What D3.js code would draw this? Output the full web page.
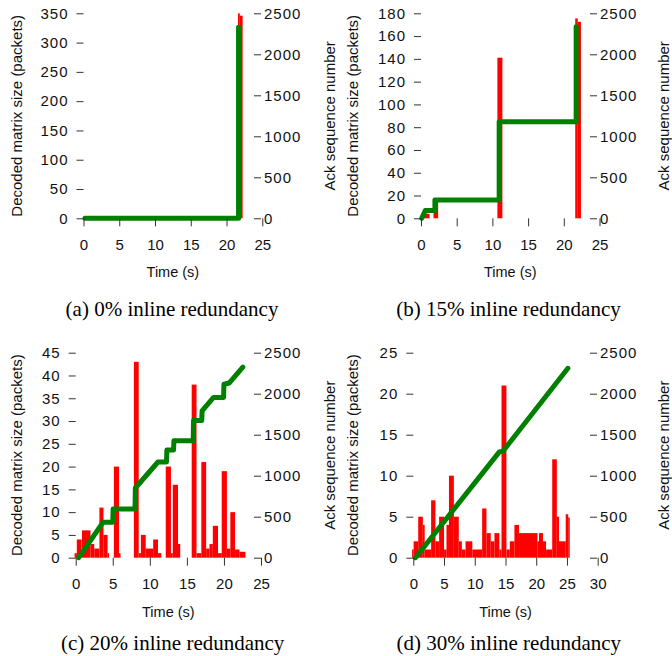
<!DOCTYPE html>
<html><head><meta charset="utf-8">
<script src="https://cdn.jsdelivr.net/npm/d3@7"></script>
<style>body{margin:0;background:#fff}svg{display:block}</style>
</head><body>
<script>
// ---------------- DATA ----------------
// shared right axis (Ack sequence number)
const ackTicks = [0, 500, 1000, 1500, 2000, 2500];

// (a) 0% inline redundancy
const aXTicks = [0, 5, 10, 15, 20, 25];
const aYTicks = [0, 50, 100, 150, 200, 250, 300, 350];
const aAckT = [0.2, 21.68, 21.68];
const aAckV = [0, 0, 2330];
const aRedT0 = [21.6, 21.85];
const aRedT1 = [21.85, 22.25];
const aRedV  = [350, 346];

// (b) 15% inline redundancy
const bXTicks = [0, 5, 10, 15, 20, 25];
const bYTicks = [0, 20, 40, 60, 80, 100, 120, 140, 160, 180];
const bAckT = [0.1, 0.6, 1.95, 1.95, 10.95, 10.95, 21.73, 21.73];
const bAckV = [0, 95, 95, 223, 223, 1178, 1178, 2335];
const bRedT0 = [0.4, 1.75, 10.7, 21.6, 21.95];
const bRedT1 = [1.2, 2.4, 11.4, 21.95, 22.4];
const bRedV  = [4, 17.5, 141, 175.5, 172.5];

// (c) 20% inline redundancy
const cXTicks = [0, 5, 10, 15, 20, 25];
const cYTicks = [0, 5, 10, 15, 20, 25, 30, 35, 40, 45];
const cAckT = [0.4, 3.7, 5.0, 5.05, 8.0, 8.05, 11.1, 12.25, 12.3, 13.2, 13.25, 15.85, 15.9, 17.0, 17.05, 18.6, 19.95, 20.0, 20.7, 22.55];
const cAckV = [0, 432, 432, 594, 594, 850, 1167, 1167, 1313, 1313, 1425, 1425, 1672, 1672, 1790, 1955, 1955, 2115, 2130, 2325];
const cRedT0 = [-0.15, 0.15, 0.85, 2.0, 2.5, 3.2, 3.75, 4.3, 5.15, 5.85, 7.85, 8.5, 8.8, 9.45, 10.45, 11.1, 12.15, 12.85, 13.1, 13.8, 15.65, 16.3, 16.95, 17.6, 18.05, 18.5, 19.2, 19.7, 20.4, 20.86, 21.5, 22.1];
const cRedT1 = [0.15, 0.8, 2.0, 2.5, 3.2, 3.75, 4.3, 4.5, 5.85, 6.05, 8.5, 8.8, 9.45, 10.45, 11.1, 11.55, 12.85, 13.1, 13.8, 14.1, 16.3, 16.95, 17.6, 18.05, 18.5, 19.2, 19.7, 20.4, 20.86, 21.5, 22.1, 22.9];
const cRedV  = [1, 4, 6, 3, 2, 11, 5, 1, 20, 1, 43, 1, 5, 2, 4, 1, 20, 1, 16, 3, 38, 1, 21, 2, 3, 7, 1, 19, 2, 10, 1.8, 1.3];

// (d) 30% inline redundancy
const dXTicks = [0, 5, 10, 15, 20, 25, 30];
const dYTicks = [0, 5, 10, 15, 20, 25];
const dAckT = [0.35, 14.0, 14.6, 25.15];
const dAckV = [0, 1290, 1300, 2310];
const dRedT0 = [-0.2, 0.05, 0.8, 1.55, 1.85, 2.9, 3.6, 4.2, 5.0, 5.4, 5.8, 6.6, 7.4, 7.9, 8.5, 9.6, 11.2, 11.9, 12.6, 13.2, 14.0, 14.35, 15.15, 15.7, 16.45, 17.2, 20.2, 20.45, 21.1, 21.6, 22.6, 23.35, 23.7, 24.8, 25.2];
const dRedT1 = [0.05, 0.8, 1.55, 1.85, 2.9, 3.6, 4.2, 5.0, 5.4, 5.8, 6.6, 7.4, 7.9, 8.5, 9.6, 11.2, 11.9, 12.6, 13.2, 14.0, 14.35, 15.15, 15.7, 16.45, 17.2, 20.2, 20.45, 21.1, 21.6, 22.6, 23.35, 23.7, 24.8, 25.2, 25.45];
const dRedV  = [1, 2, 5, 4, 1, 7, 2, 5, 1, 4, 10, 5, 2, 1, 2, 1, 6, 3, 2, 3, 1, 21, 1, 2, 4, 3, 2, 3, 2, 1, 12, 5, 2, 5.3, 4.9];

const captions = ["(a) 0% inline redundancy", "(b) 15% inline redundancy", "(c) 20% inline redundancy", "(d) 30% inline redundancy"];

// ---------------- LAYOUT ----------------
const W = 672, H = 656;
const panels = [
  {cap: captions[0], xT: aXTicks, yT: aYTicks, ackT: aAckT, ackV: aAckV, r0: aRedT0, r1: aRedT1, rv: aRedV,
   px0: 83.5, px1: 262.3, right: 254, top: 13.3, bottom: 218.3, tl: 21.5, tr: 334.5, capX: 172, capY: 316},
  {cap: captions[1], xT: bXTicks, yT: bYTicks, ackT: bAckT, ackV: bAckV, r0: bRedT0, r1: bRedT1, rv: bRedV,
   px0: 421, px1: 599.5, right: 590, top: 13.3, bottom: 218.3, tl: 358, tr: 668.5, capX: 508.5, capY: 316},
  {cap: captions[2], xT: cXTicks, yT: cYTicks, ackT: cAckT, ackV: cAckV, r0: cRedT0, r1: cRedT1, rv: cRedV,
   px0: 75.7, px1: 261, right: 254, top: 352.7, bottom: 557.7, tl: 21.5, tr: 334.5, capX: 172.7, capY: 650},
  {cap: captions[3], xT: dXTicks, yT: dYTicks, ackT: dAckT, ackV: dAckV, r0: dRedT0, r1: dRedT1, rv: dRedV,
   px0: 413.3, px1: 597.7, right: 590, top: 352.7, bottom: 557.7, tl: 358, tr: 668.5, capX: 508.8, capY: 650}
];

const svg = d3.select("body").append("svg").attr("width", W).attr("height", H);
const sans = "'Liberation Sans', Arial, Helvetica, sans-serif";
const serif = "'Liberation Serif', 'Times New Roman', Times, serif";
const txt = "#111", tickCol = "#333";

panels.forEach(p => {
  const g = svg.append("g");
  const xMax = p.xT[p.xT.length - 1], yMax = p.yT[p.yT.length - 1];
  const x = d3.scaleLinear().domain([0, xMax]).range([p.px0, p.px1]);
  const y = d3.scaleLinear().domain([0, yMax]).range([p.bottom, p.top]);
  const y2 = d3.scaleLinear().domain([0, 2500]).range([p.bottom, p.top]);

  // red bars (decoded matrix size)
  g.selectAll("rect.red").data(p.rv.map((v, i) => ({t0: p.r0[i], t1: p.r1[i], v})))
    .join("rect").attr("class", "red")
    .attr("x", d => x(d.t0)).attr("width", d => x(d.t1) - x(d.t0))
    .attr("y", d => y(d.v)).attr("height", d => y(0) - y(d.v))
    .attr("fill", "#ff0000");

  // green line (ack sequence number)
  const line = d3.line().x(d => x(d[0])).y(d => y2(d[1]));
  g.append("path").datum(p.ackT.map((t, i) => [t, p.ackV[i]]))
    .attr("d", line).attr("fill", "none").attr("stroke", "#008000")
    .attr("stroke-width", 5).attr("stroke-linejoin", "round").attr("stroke-linecap", "round");

  const fmt = d3.format("d");
  // left axis
  const axL = d3.axisLeft(y).tickValues(p.yT).tickFormat(fmt).tickSize(7).tickPadding(8);
  const gl = g.append("g").attr("transform", `translate(${p.px0},0)`).call(axL);
  // bottom axis
  const axB = d3.axisBottom(x).tickValues(p.xT).tickFormat(fmt).tickSize(8).tickPadding(13);
  const gb = g.append("g").attr("transform", `translate(0,${p.bottom})`).call(axB);
  // right axis
  const axR = d3.axisRight(y2).tickValues(ackTicks).tickFormat(fmt).tickSize(7).tickPadding(3);
  const gr = g.append("g").attr("transform", `translate(${p.right},0)`).call(axR);

  [gl, gb, gr].forEach(a => {
    a.select(".domain").remove();
    a.selectAll(".tick line").attr("stroke", tickCol).attr("stroke-width", 1);
    a.selectAll(".tick text").attr("fill", txt).style("font-family", sans).style("font-size", "15px");
  });
  gl.selectAll(".tick text").style("letter-spacing", "1px");
  gr.selectAll(".tick text").style("letter-spacing", "1px");

  // axis titles
  g.append("text").attr("x", (p.px0 + p.px1) / 2).attr("y", p.bottom + 59)
    .attr("text-anchor", "middle").attr("fill", txt)
    .style("font-family", sans).style("font-size", "14.5px").text("Time (s)");
  const cy = (p.top + p.bottom) / 2;
  g.append("text").attr("transform", `translate(${p.tl},${cy}) rotate(-90)`)
    .attr("text-anchor", "middle").attr("fill", txt)
    .style("font-family", sans).style("font-size", "15px").text("Decoded matrix size (packets)");
  g.append("text").attr("transform", `translate(${p.tr},${cy}) rotate(-90)`)
    .attr("text-anchor", "middle").attr("fill", txt)
    .style("font-family", sans).style("font-size", "15px").text("Ack sequence number");

  // caption
  g.append("text").attr("x", p.capX).attr("y", p.capY).attr("text-anchor", "middle")
    .attr("fill", "#000").style("font-family", serif).style("font-size", "21px").text(p.cap);
});
</script>
</body></html>
